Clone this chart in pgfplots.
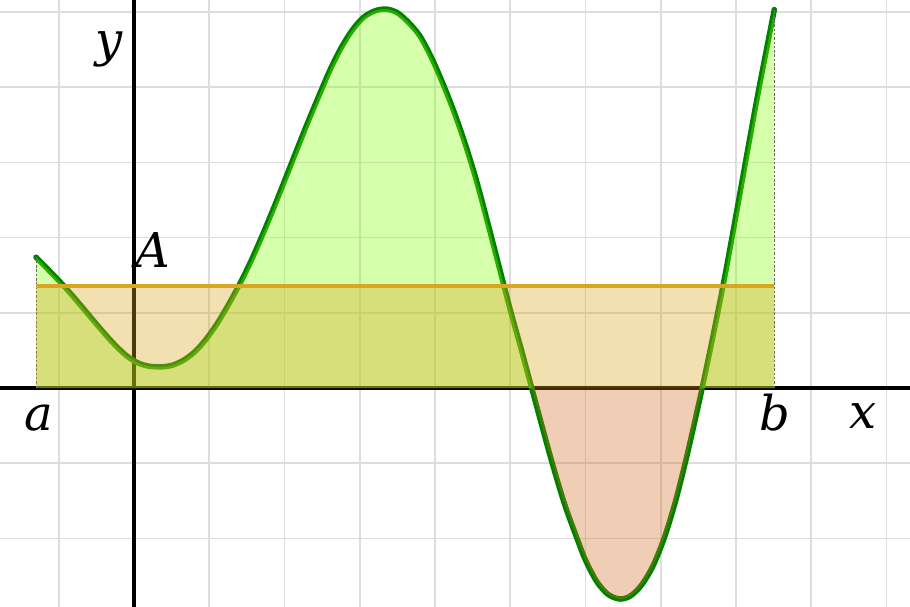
\documentclass[border=0pt]{standalone}
\usepackage{fontspec}
\setmainfont{DejaVu Serif}
\usepackage{pgfplots}
\pgfplotsset{compat=1.18}
\usepgfplotslibrary{fillbetween}
\pgfplotsset{/tikz/fill between/on layer=main}
\definecolor{curvegreen}{RGB}{0,130,0}
\definecolor{gold}{RGB}{218,165,32}
\definecolor{chart}{RGB}{127,255,0}
\definecolor{choc}{RGB}{210,105,30}
\definecolor{gridgray}{RGB}{221,221,221}
\definecolor{dashgray}{RGB}{105,105,105}
\begin{document}
\begin{tikzpicture}
\begin{axis}[
  width=910bp, height=607bp, scale only axis,
  xmin=-1.781, xmax=10.312, ymin=-2.912, ymax=5.160,
  xtick={-1,0,...,10}, ytick={-2,-1,...,5},
  xticklabels={}, yticklabels={},
  major tick length=0pt,
  grid=major, grid style={gridgray, line width=1.6bp},
  axis line style={draw=none},
  set layers=standard,
  clip=true,
]
% axes
\addplot[black, line width=4.5bp] coordinates {(-1.781,0) (10.312,0)};
\addplot[black, line width=4.5bp] coordinates {(0,-2.912) (0,5.160)};
% the function
\addplot[name path=f, curvegreen, line width=5.5bp, smooth, line join=round, line cap=round] coordinates {
(-1.302,1.740) (-1.15,1.585) (-1.0,1.430) (-0.85,1.265) (-0.7,1.090)
(-0.55,0.910) (-0.4,0.735) (-0.25,0.570) (-0.1,0.430) (0.05,0.335)
(0.2,0.290) (0.37,0.282) (0.5,0.300) (0.65,0.365) (0.8,0.475)
(0.95,0.640) (1.1,0.850) (1.25,1.100) (1.4,1.375) (1.55,1.680)
(1.7,2.020) (1.85,2.380) (2.0,2.755) (2.15,3.135) (2.3,3.510)
(2.45,3.870) (2.6,4.220) (2.75,4.520) (2.9,4.760) (3.05,4.930)
(3.2,5.015) (3.35,5.040) (3.5,4.990) (3.65,4.860) (3.8,4.680)
(3.95,4.400) (4.1,4.060) (4.25,3.680) (4.4,3.250) (4.55,2.760)
(4.7,2.200) (4.85,1.620) (5.0,1.040) (5.15,0.500) (5.285,0)
(5.42,-0.500) (5.555,-0.990) (5.72,-1.540) (5.887,-2.000) (6.0,-2.290)
(6.15,-2.575) (6.3,-2.745) (6.458,-2.806) (6.6,-2.763) (6.75,-2.613)
(6.9,-2.358) (7.05,-1.983) (7.2,-1.490) (7.35,-0.890) (7.5,-0.230)
(7.55,0) (7.7,0.720) (7.85,1.480) (8.0,2.300) (8.15,3.140)
(8.3,3.960) (8.509,5.033)
};
\addplot[name path=zero, draw=none] coordinates {(-1.302,0) (8.509,0)};
\addplot fill between[of=f and zero, split,
  every segment no 0/.style={fill=chart, fill opacity=0.33},
  every segment no 1/.style={fill=choc, fill opacity=0.33},
  every segment no 2/.style={fill=chart, fill opacity=0.33}];
% dashed verticals at a and b
\addplot[dashgray, line width=1bp, dash pattern=on 2.5bp off 1.8bp] coordinates {(-1.302,0) (-1.302,1.740)};
\addplot[dashgray, line width=1bp, dash pattern=on 2.5bp off 1.8bp] coordinates {(8.509,0) (8.509,5.033)};
% mean value rectangle
\addplot[draw=none, fill=gold, fill opacity=0.35] coordinates {(-1.302,0) (-1.302,1.356) (8.509,1.356) (8.509,0)} \closedcycle;
\addplot[gold, line width=4bp] coordinates {(-1.302,1.356) (8.509,1.356)};
% labels
\node[anchor=base, inner sep=0pt, font=\fontsize{48bp}{56bp}\selectfont\itshape] at (axis cs:-1.269,-0.559) {a};
\node[anchor=base, inner sep=0pt, font=\fontsize{48bp}{56bp}\selectfont\itshape] at (axis cs:8.512,-0.559) {b};
\node[anchor=base, inner sep=0pt, font=\fontsize{48bp}{56bp}\selectfont\itshape] at (axis cs:9.694,-0.532) {x};
\node[anchor=base, inner sep=0pt, font=\fontsize{48bp}{56bp}\selectfont\itshape] at (axis cs:-0.332,4.402) {y};
\node[anchor=base west, inner sep=0pt, font=\fontsize{48bp}{56bp}\selectfont\itshape] at (axis cs:0.013,1.609) {A};
\end{axis}
\pgfresetboundingbox
\path (current axis.south west) rectangle (current axis.north east);
\end{tikzpicture}
\end{document}
